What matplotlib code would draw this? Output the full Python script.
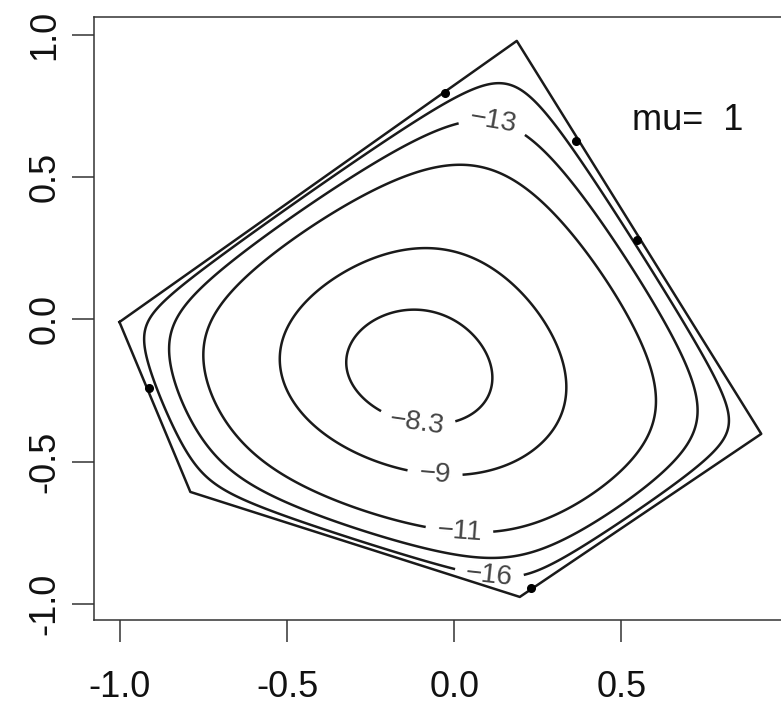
import numpy as np
import matplotlib
matplotlib.use("Agg")
import matplotlib.pyplot as plt

plt.rcParams['font.family'] = ['Liberation Sans', 'DejaVu Sans']

# polygon (feasible region) vertices
vx = [-1.001, -0.789, 0.196, 0.918, 0.187]
vy = [-0.009, -0.606, -0.975, -0.402, 0.979]

# dots on the boundary
px = [-0.028, 0.364, 0.546, 0.229, -0.912]
py = [0.796, 0.627, 0.279, -0.944, -0.241]

levels = [-16, -13, -11, -9, -8.3]
level_labels = ['\u221216', '\u221213', '\u221211', '\u22129', '\u22128.3']
# points read on each contour
cx = {-8.3: [-0.076, -0.319, 0.121, -0.115],
      -9: [-0.034, -0.510, 0.331, -0.037],
      -11: [0.070, -0.741, 0.597, 0.043],
      -13: [0.124, -0.855, 0.735, 0.136],
      -16: [0.151, -0.933, 0.834, 0.109, 0.335, 0.520]}
cy = {-8.3: [0.023, -0.202, -0.206, -0.367],
      -9: [0.241, -0.213, -0.237, -0.547],
      -11: [0.575, -0.167, -0.308, -0.733],
      -13: [0.659, -0.107, -0.353, -0.838],
      -16: [0.872, -0.047, -0.378, -0.887, 0.624, 0.265]}
label_x = [0.106, 0.112, 0.016, -0.058, -0.112]
label_y = [-0.887, 0.666, -0.733, -0.547, -0.376]

n = len(vx)
def basis(x, y):
    x = np.asarray(x, dtype=float); y = np.asarray(y, dtype=float)
    s = 0.0
    for i in range(n):
        x0, y0 = vx[i], vy[i]
        x1, y1 = vx[(i + 1) % n], vy[(i + 1) % n]
        ex, ey = x1 - x0, y1 - y0
        L = np.hypot(ex, ey)
        d = (ex * (y - y0) - ey * (x - x0)) / L
        s = s + np.log(np.where(d > 0, d, np.nan))
    return [s, x, y, x * x, y * y, x * y, np.ones_like(x)]

def model(c, x, y):
    return sum(ci * bi for ci, bi in zip(c, basis(x, y)))

# barrier-type surface fitted to the contour crossings
ptsx, ptsy, vals = [], [], []
for lv in levels:
    ptsx += cx[lv]; ptsy += cy[lv]; vals += [lv] * len(cx[lv])
ptsx = np.array(ptsx); ptsy = np.array(ptsy); vals = np.array(vals)
A = np.array(basis(ptsx, ptsy)).T
w = np.ones(len(vals))
for _ in range(8):
    coef, *_ = np.linalg.lstsq(A * w[:, None], vals * w, rcond=None)
    h = 1e-4
    gx = (model(coef, ptsx + h, ptsy) - model(coef, ptsx - h, ptsy)) / (2 * h)
    gy = (model(coef, ptsx, ptsy + h) - model(coef, ptsx, ptsy - h)) / (2 * h)
    w = 1.0 / np.maximum(np.hypot(gx, gy), 0.5)

X, Y = np.meshgrid(np.linspace(-1.0, 0.92, 700), np.linspace(-0.98, 0.98, 700))
F = model(coef, X, Y)

fig = plt.figure(figsize=(7.81, 7.05), dpi=100)
ax = fig.add_axes([0.1204, 0.1206, 0.8873, 0.8553])
cs = ax.contour(X, Y, F, levels=sorted(levels), colors='#1a1a1a', linewidths=1.8,
                linestyles='solid')
fmt = {lv: lab for lv, lab in zip(levels, level_labels)}
lab_pos = list(zip(label_x, label_y))
ax.clabel(cs, levels=cs.levels, fmt=fmt, manual=lab_pos, inline=True,
          inline_spacing=14, fontsize=20, colors='#444444')
ax.plot(vx + [vx[0]], vy + [vy[0]], color='#1a1a1a', lw=1.8)
ax.plot(px, py, 'o', color='black', ms=5.5)
ax.text(0.531, 0.698, 'mu=  1', fontsize=26, ha='left', va='center', color='#111111')

ax.set_xlim(-1.077, 0.995)
ax.set_ylim(-1.056, 1.063)
ax.set_xticks([-1.0, -0.5, 0.0, 0.5])
ax.set_xticklabels(['-1.0', '-0.5', '0.0', '0.5'])
ax.set_yticks([-1.0, -0.5, 0.0, 0.5, 1.0])
ax.set_yticklabels(['-1.0', '-0.5', '0.0', '0.5', '1.0'], rotation=90, va='center')
ax.tick_params(axis='both', length=15.8, width=1.1, labelsize=26, color='#333333',
               labelcolor='#111111')
ax.tick_params(axis='x', pad=20)
ax.tick_params(axis='y', pad=7)
for sp in ax.spines.values():
    sp.set_linewidth(1.1)
    sp.set_color('#333333')
plt.savefig("out.png", dpi=100)
